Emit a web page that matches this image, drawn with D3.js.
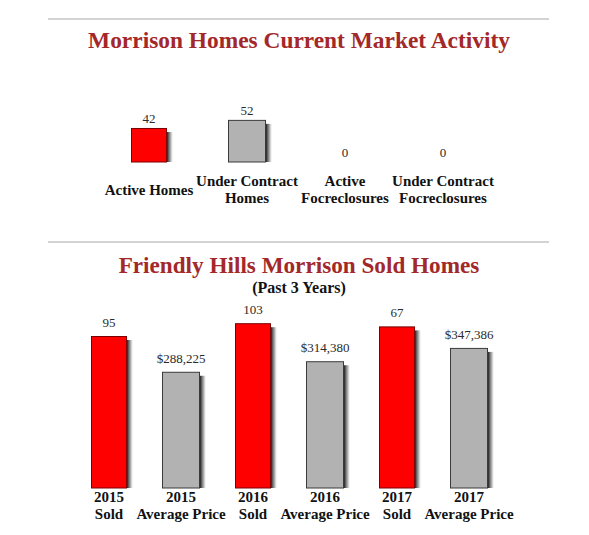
<!DOCTYPE html>
<html>
<head>
<meta charset="utf-8">
<script src="https://cdn.jsdelivr.net/npm/d3@7"></script>
<style>
  html, body { margin: 0; padding: 0; background: #fff; }
  svg { display: block; font-family: "Liberation Serif", "Times New Roman", serif; }
</style>
</head>
<body>
<svg id="chart" width="589" height="535"></svg>
<script>
// --- data -------------------------------------------------------------
const marketCategories = [
  ["Active Homes"],
  ["Under Contract", "Homes"],
  ["Active", "Focreclosures"],
  ["Under Contract", "Focreclosures"]
];
const marketValues = [42, 52, 0, 0];
const marketColors = ["red", "gray", "red", "gray"];

const soldCategories = [
  ["2015", "Sold"], ["2015", "Average Price"],
  ["2016", "Sold"], ["2016", "Average Price"],
  ["2017", "Sold"], ["2017", "Average Price"]
];
const soldKinds = ["count", "price", "count", "price", "count", "price"];
const soldLabels = ["95", "$288,225", "103", "$314,380", "67", "$347,386"];
// heights as drawn in the source; the 2017 "67" bar stands at about 101 on the count scale
const soldValues = [95, 288225, 103, 314380, 101, 347386];

// --- look -------------------------------------------------------------
const titleColor = "#a3282a";
const fills  = { red: "#ff0000", gray: "#b2b2b2" };
const stroke = { red: "#7a0000", gray: "#3a3a3a" };

const svg = d3.select("#chart");

const defs = svg.append("defs");
const grad = defs.append("linearGradient").attr("id", "shade")
  .attr("x1", 0).attr("x2", 1).attr("y1", 0).attr("y2", 0);
grad.append("stop").attr("offset", "0%").attr("stop-color", "#111").attr("stop-opacity", 0.95);
grad.append("stop").attr("offset", "55%").attr("stop-color", "#555").attr("stop-opacity", 0.55);
grad.append("stop").attr("offset", "100%").attr("stop-color", "#999").attr("stop-opacity", 0);

function rule(y) {
  svg.append("line")
    .attr("x1", 48).attr("x2", 549).attr("y1", y).attr("y2", y)
    .attr("stroke", "#a8a8a8").attr("stroke-width", 1.2);
}

function title(text, y, size, color) {
  svg.append("text")
    .attr("x", 299).attr("y", y)
    .attr("text-anchor", "middle")
    .attr("font-size", size).attr("font-weight", "bold")
    .attr("fill", color)
    .text(text);
}

// Draws one bar with its right-hand shade strip and value label.
function bar(g, cx, w, yTop, yBase, color, label, labelGap) {
  const h = yBase - yTop;
  if (h > 0) {
    g.append("rect")
      .attr("x", cx - w / 2 + w).attr("y", yTop + 4)
      .attr("width", 6).attr("height", Math.max(0, h - 4))
      .attr("fill", "url(#shade)");
    g.append("rect")
      .attr("x", cx - w / 2 + 0.5).attr("y", yTop + 0.5)
      .attr("width", w - 1).attr("height", h - 0.5)
      .attr("fill", fills[color])
      .attr("stroke", stroke[color]).attr("stroke-width", 1);
  }
  g.append("text")
    .attr("x", cx).attr("y", yTop - labelGap)
    .attr("text-anchor", "middle")
    .attr("font-size", 13).attr("fill", "#2a2a2a")
    .text(label);
}

function categoryLabel(g, cx, lines, yFirst, lineH) {
  const t = g.append("text")
    .attr("text-anchor", "middle")
    .attr("font-size", 15).attr("font-weight", "bold")
    .attr("fill", "#111");
  lines.forEach((s, i) => {
    t.append("tspan").attr("x", cx).attr("y", yFirst + i * lineH).text(s);
  });
}

// --- top chart: current market activity -------------------------------
rule(19);
title("Morrison Homes Current Market Activity", 48, 23.4, titleColor);

const topBase = 162;
const xTop = d3.scalePoint().domain(d3.range(marketValues.length)).range([149, 443]);
const yTop = d3.scaleLinear().domain([0, 100]).range([topBase, topBase - 81]);

const gTop = svg.append("g");
marketValues.forEach((v, i) => {
  const w = marketColors[i] === "gray" ? 38 : 36;
  bar(gTop, xTop(i), w, yTop(v), topBase, marketColors[i], String(v), 5);
  const lines = marketCategories[i];
  categoryLabel(gTop, xTop(i), lines, lines.length === 1 ? 195 : 186, 17);
});

// --- bottom chart: sold homes --------------------------------------------
rule(242);
title("Friendly Hills Morrison Sold Homes", 273, 23.2, titleColor);
title("(Past 3 Years)", 293, 16, "#111");

const botBase = 488;
const xBot = d3.scalePoint().domain(d3.range(soldValues.length)).range([109, 469]);
const yCount = d3.scaleLinear().domain([0, 100]).range([botBase, botBase - 160]);
const yPrice = d3.scaleLinear().domain([0, 400000]).range([botBase, botBase - 161.3]);

const gBot = svg.append("g");
soldValues.forEach((v, i) => {
  const isCount = soldKinds[i] === "count";
  const y = isCount ? yCount(v) : yPrice(v);
  bar(gBot, xBot(i), isCount ? 36 : 38, y, botBase, isCount ? "red" : "gray", soldLabels[i], 9);
  categoryLabel(gBot, xBot(i), soldCategories[i], 502, 17);
});
</script>
</body>
</html>
